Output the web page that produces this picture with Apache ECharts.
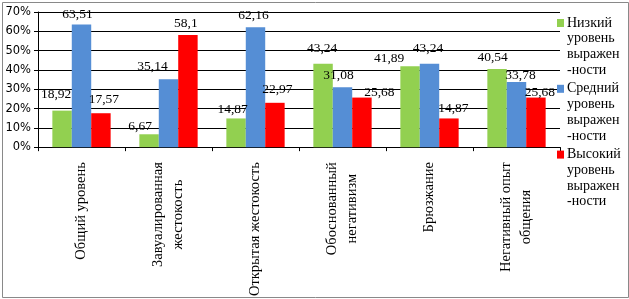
<!DOCTYPE html>
<html>
<head>
<meta charset="utf-8">
<script src="https://cdn.jsdelivr.net/npm/echarts@6/dist/echarts.min.js"></script>
<style>
  html, body { margin: 0; padding: 0; background: #fff; }
  #chart { width: 629px; height: 299px; }
</style>
</head>
<body>
<div id="chart"></div>
<script>
const categories = [
  "Общий уровень",
  "Завуалированная\nжестокость",
  "Открытая жестокость",
  "Обоснованный\nнегативизм",
  "Брюзжание",
  "Негативный опыт\nобщения"
];
const seriesNames = [
  "Низкий уровень выражен-ности",
  "Средний уровень выражен-ности",
  "Высокий уровень выражен-ности"
];
const lowValues = [18.92, 6.67, 14.87, 43.24, 41.89, 40.54];
const midValues = [63.51, 35.14, 62.16, 31.08, 43.24, 33.78];
const highValues = [17.57, 58.1, 22.97, 25.68, 14.87, 25.68];
const yTicks = [0, 70, 10]; // min, max, interval

// labels were nudged by hand in the original, keep those shifts
const lowLabelShift = [[-6, -4], [-9, 4], [-3.5, 3], [-1, -3], [-21, 4], [-4.5, 1]];
const midLabelShift = [[-4, 2], [-16, -1], [-2, 0], [-4, 0], [-1.5, -3], [4, 6]];
const highLabelShift = [[3, -2], [-2, 0], [2.5, -1], [17.5, 7], [4.5, 2], [4, 7]];

const colors = ["#92d050", "#558ed5", "#ff0000"];
const serif = "'Liberation Serif', 'Times New Roman', serif";

const chart = echarts.init(document.getElementById("chart"));

const makeSeries = (name, values, shifts, color) => ({
  name: name,
  type: "bar",
  data: values.map((v, i) => ({ value: v, label: { offset: shifts[i] } })),
  barGap: "0%",
  barCategoryGap: "33%",
  itemStyle: { color: color },
  label: {
    show: true,
    position: "top",
    distance: 5,
    color: "#000",
    fontFamily: serif,
    fontSize: 13.5,
    formatter: (p) => String(p.value).replace(".", ",")
  }
});

// legend text: marker + wrapped words
const legendRich = {
  t: { fontFamily: serif, fontSize: 14, lineHeight: 15.7, color: "#000" },
  s: { width: 10, lineHeight: 15.7 },
  g: { width: 3 }
};
colors.forEach((c, i) => {
  legendRich["m" + i] = { width: 7, height: 8, backgroundColor: c };
});

const option = {
  animation: false,
  backgroundColor: "#fff",
  color: colors,
  grid: { left: 38, right: 69, top: 12, bottom: 151, containLabel: false },
  legend: {
    orient: "vertical",
    left: 547,
    top: 11,
    icon: "none",
    itemWidth: 0,
    itemHeight: 0,
    itemGap: 4.7,
    selectedMode: false,
    textStyle: { rich: legendRich },
    formatter: (name) => {
      const i = seriesNames.indexOf(name);
      const first = ["Низкий", "Средний", "Высокий"][i];
      return "{m" + i + "|}{g|}{t|" + first + "}\n{s|}{t|уровень}\n{s|}{t|выражен}\n{s|}{t|-ности}";
    }
  },
  xAxis: {
    type: "category",
    data: categories,
    axisLine: { lineStyle: { color: "#000", width: 1 } },
    axisTick: { show: true, length: 4, lineStyle: { color: "#000" } },
    axisLabel: {
      rotate: 90,
      margin: 15,
      interval: 0,
      formatter: (v) => v.split("\n").map((l) => "{c|" + l + "}").join("\n"),
      rich: {
        c: { align: "center", fontFamily: serif, fontSize: 14.5, lineHeight: 20, color: "#000" }
      }
    }
  },
  yAxis: {
    type: "value",
    min: yTicks[0],
    max: yTicks[1],
    interval: yTicks[2],
    axisLine: { show: true, lineStyle: { color: "#000" } },
    axisTick: { show: true, length: 4, lineStyle: { color: "#000" } },
    splitLine: { lineStyle: { color: "#000", width: 1 } },
    axisLabel: {
      margin: 7,
      color: "#000",
      fontFamily: "'DejaVu Sans', sans-serif",
      fontSize: 11.5,
      formatter: "{value}%"
    }
  },
  graphic: [{
    type: "rect",
    left: 0,
    top: 0,
    shape: { x: 0.5, y: 0.5, width: 626, height: 295 },
    style: { fill: "none", stroke: "#898989", lineWidth: 1 },
    silent: true
  }],
  series: [
    makeSeries(seriesNames[0], lowValues, lowLabelShift, colors[0]),
    makeSeries(seriesNames[1], midValues, midLabelShift, colors[1]),
    makeSeries(seriesNames[2], highValues, highLabelShift, colors[2])
  ]
};

chart.setOption(option);
</script>
</body>
</html>
